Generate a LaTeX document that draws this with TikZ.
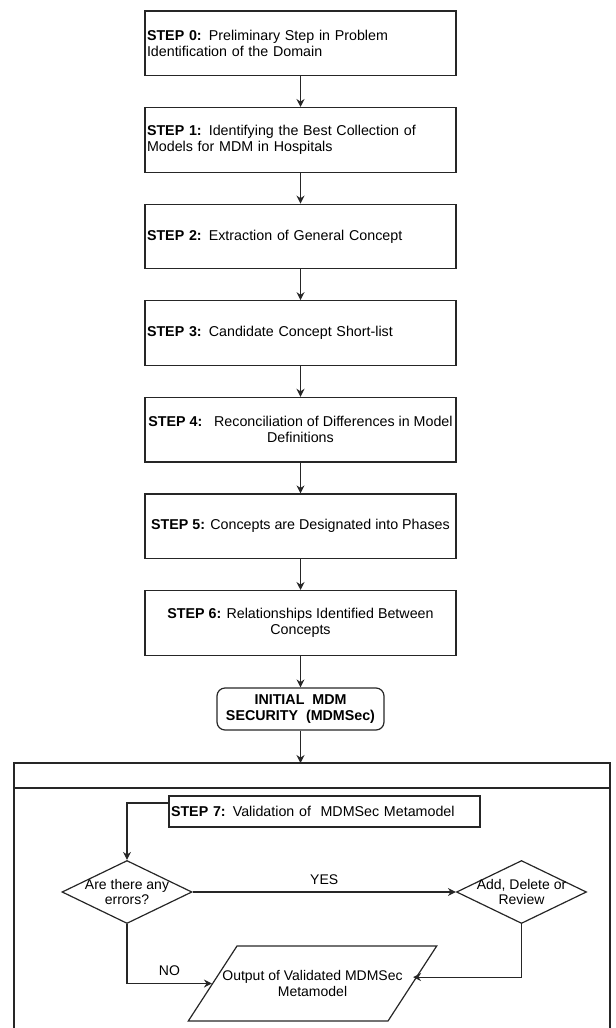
\documentclass[tikz,border=0pt]{standalone}
\usepackage{fontspec}
\setmainfont{Liberation Sans}
\usepackage{tikz}
\usetikzlibrary{shapes.geometric,arrows.meta}

\begin{document}
\begin{tikzpicture}[x=0.75pt,y=-0.75pt,
    stepbox/.style={draw=black!85,line width=0.9pt,minimum width=233.25pt,minimum height=48.4pt,inner xsep=1.5pt,font=\fontsize{10.7}{12}\selectfont},
    leftbox/.style={stepbox,align=left,text width=230.25pt},
    midbox/.style={stepbox,align=center},
    startbox/.style={draw=black!85,line width=0.9pt,rounded corners=6pt,minimum width=125.25pt,minimum height=31.5pt,align=center,font=\fontsize{10.7}{11.5}\selectfont\bfseries},
    decision/.style={diamond,draw=black!85,line width=0.9pt,minimum width=97.5pt,minimum height=47.25pt,inner sep=0pt},
    io/.style={trapezium,trapezium left angle=57,trapezium right angle=123,draw=black!85,line width=0.9pt,inner xsep=56.625pt,inner ysep=28.125pt},
    txt/.style={align=center,font=\fontsize{10.5}{11.5}\selectfont},
    flow/.style={draw=black!85,line width=0.9pt,-{Stealth[length=6pt,width=6pt]}}]
        \useasboundingbox (0,0) rectangle (616,1028);

        % steps 0 to 6
        \node[leftbox] (s0) at (300.5,43.25) {\textbf{STEP 0:} Preliminary Step in Problem\\Identification of the Domain};
        \node[leftbox] (s1) at (300.5,139.85) {\textbf{STEP 1:} Identifying the Best Collection of\\Models for MDM in Hospitals};
        \node[leftbox] (s2) at (300.5,236.45) {\textbf{STEP 2:} Extraction of General Concept};
        \node[leftbox] (s3) at (300.5,333.05) {\textbf{STEP 3:} Candidate Concept Short-list};
        \node[midbox] (s4) at (300.5,429.65) {\textbf{STEP 4:}\ \ \ Reconciliation of Differences in Model\\Definitions};
        \node[midbox] (s5) at (300.5,526.25) {\textbf{STEP 5:} Concepts are Designated into Phases};
        \node[midbox] (s6) at (300.5,622.85) {\textbf{STEP 6:} Relationships Identified Between\\Concepts};
        \node[startbox] (init) at (300.5,709) {INITIAL\ \ MDM\\SECURITY\ \ (MDMSec)};

        \draw[flow] (s0) -- (s1);
        \draw[flow] (s1) -- (s2);
        \draw[flow] (s2) -- (s3);
        \draw[flow] (s3) -- (s4);
        \draw[flow] (s4) -- (s5);
        \draw[flow] (s5) -- (s6);
        \draw[flow] (s6) -- (init);

        % validation frame
        \coordinate (ftop) at (300.5,763);
        \draw[draw=black!85,line width=0.9pt] (14,1028) -- (14,763) -- (610,763) -- (610,1028);
        \draw[draw=black!85,line width=0.9pt] (14,788) -- (610,788);
        \draw[flow] (init) -- (ftop);

        \node[stepbox,minimum height=23.25pt,align=left,text width=230.25pt] (s7) at (324.5,811.5) {\textbf{STEP 7:} Validation of\ \ MDMSec Metamodel};
        \node[decision,label={[txt]center:Are there any\\errors?}] (d1) at (127,892) {};
        \node[decision,label={[txt]center:Add, Delete or\\Review}] (d2) at (521.5,892) {};
        \node[io,label={[txt]center:Output of Validated MDMSec\\Metamodel}] (out) at (312.5,983.5) {};

        \draw[flow] ([yshift=6.4pt]s7.west) -| (d1.north);
        \draw[flow] (d1.east) -- node[txt,above=2pt] {YES} (d2.west);
        \draw[flow] (d1.south) |- node[txt,pos=0.75,above=2pt] {NO} (out);
        \draw[flow] (d2.south) |- ([yshift=4.8pt]out.east);
\end{tikzpicture}
\end{document}
